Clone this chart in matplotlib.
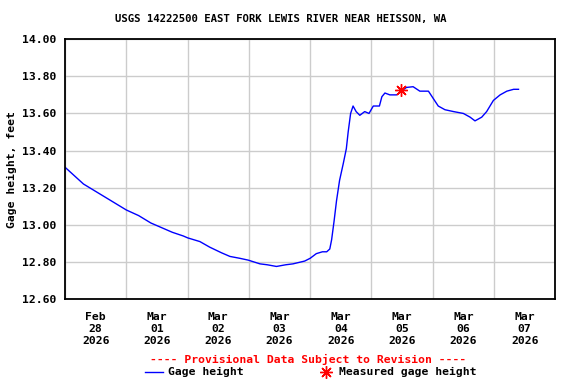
import numpy as np
import matplotlib
matplotlib.use("Agg")
import matplotlib.pyplot as plt
import matplotlib.dates as mdates
from datetime import datetime, timedelta

# gage height readings (days after Feb 28 2026 00:00, feet)
days = [0.00, 0.10, 0.20, 0.30, 0.45, 0.60, 0.80, 1.00, 1.20, 1.40, 1.54, 1.75, 1.93,
        2.00, 2.20, 2.36, 2.55, 2.69, 2.85, 2.99, 3.18, 3.30, 3.45, 3.60, 3.72, 3.91,
        4.00, 4.10, 4.20, 4.27, 4.32, 4.35, 4.39, 4.43, 4.48, 4.54, 4.59, 4.62, 4.66,
        4.70, 4.75, 4.81, 4.89, 4.96, 5.03, 5.13, 5.17, 5.22, 5.30, 5.41, 5.49, 5.57,
        5.68, 5.79, 5.93, 6.01, 6.09, 6.20, 6.34, 6.50, 6.61, 6.69, 6.80, 6.88, 6.99,
        7.10, 7.21, 7.32, 7.40]
gage = [13.31, 13.28, 13.25, 13.22, 13.19, 13.16, 13.12, 13.08, 13.05, 13.01, 12.99, 12.96, 12.94,
        12.93, 12.91, 12.88, 12.85, 12.83, 12.82, 12.81, 12.79, 12.785, 12.776, 12.785, 12.79, 12.805,
        12.82, 12.845, 12.855, 12.855, 12.87, 12.92, 13.02, 13.13, 13.24, 13.33, 13.41, 13.50, 13.60,
        13.64, 13.61, 13.59, 13.61, 13.60, 13.64, 13.64, 13.69, 13.71, 13.70, 13.70, 13.72, 13.74,
        13.744, 13.72, 13.72, 13.68, 13.64, 13.62, 13.61, 13.60, 13.58, 13.56, 13.58, 13.61, 13.67,
        13.70, 13.72, 13.73, 13.73]

meas_day = [5.49]
meas_val = [13.726]

start = datetime(2026, 2, 28)
t = [start + timedelta(days=d) for d in days]
tm = [start + timedelta(days=d) for d in meas_day]

mono = "DejaVu Sans Mono"
fs = 8.2

fig = plt.figure(figsize=(5.76, 3.84), dpi=100)
ax = fig.add_axes([0.113, 0.221, 0.851, 0.677])

ax.plot(t, gage, color="blue", linewidth=1.0)
ax.plot(tm, meas_val, linestyle="none", marker=(8, 2, 0), markersize=9,
        color="red", markeredgewidth=1.0)

ax.set_xlim(start, start + timedelta(days=8))
ax.set_ylim(12.6, 14.0)
ax.set_yticks(np.arange(12.6, 14.01, 0.2))
ax.set_yticklabels(["%.2f" % v for v in np.arange(12.6, 14.01, 0.2)],
                   fontfamily=mono, fontweight="bold", fontsize=fs)

ax.xaxis.set_major_locator(mdates.DayLocator())
ax.xaxis.set_major_formatter(plt.NullFormatter())
ax.xaxis.set_minor_locator(mdates.HourLocator(byhour=[12]))
ax.xaxis.set_minor_formatter(mdates.DateFormatter("%b\n%d\n%Y"))
for lab in ax.xaxis.get_minorticklabels():
    lab.set_fontfamily(mono)
    lab.set_fontweight("bold")
    lab.set_fontsize(fs)
    lab.set_linespacing(1.25)

ax.tick_params(axis="both", which="both", length=0, pad=6)
ax.tick_params(axis="x", which="minor", pad=9)
ax.grid(True, which="major", color="#cccccc", linewidth=1.0)
for s in ax.spines.values():
    s.set_linewidth(1.3)

ax.set_ylabel("Gage height, feet", fontfamily=mono, fontweight="bold", fontsize=fs, labelpad=4)
fig.text(0.488, 0.95, "USGS 14222500 EAST FORK LEWIS RIVER NEAR HEISSON, WA",
         ha="center", va="center", fontfamily=mono, fontweight="bold", fontsize=7.7)

fig.text(0.535, 0.065, "---- Provisional Data Subject to Revision ----", color="red",
         ha="center", va="center", fontfamily=mono, fontweight="bold", fontsize=fs)
fig.add_artist(plt.Line2D([145 / 576, 163 / 576], [1 - 372 / 384] * 2, color="blue", linewidth=1.0))
fig.text(168 / 576, 1 - 372 / 384, "Gage height", ha="left", va="center",
         fontfamily=mono, fontweight="bold", fontsize=fs)
fig.add_artist(plt.Line2D([326 / 576], [1 - 372 / 384], linestyle="none", marker=(8, 2, 0),
                          markersize=9, color="red", markeredgewidth=1.0))
fig.text(339 / 576, 1 - 372 / 384, "Measured gage height", ha="left", va="center",
         fontfamily=mono, fontweight="bold", fontsize=fs)

fig.savefig("out.png", dpi=100)
